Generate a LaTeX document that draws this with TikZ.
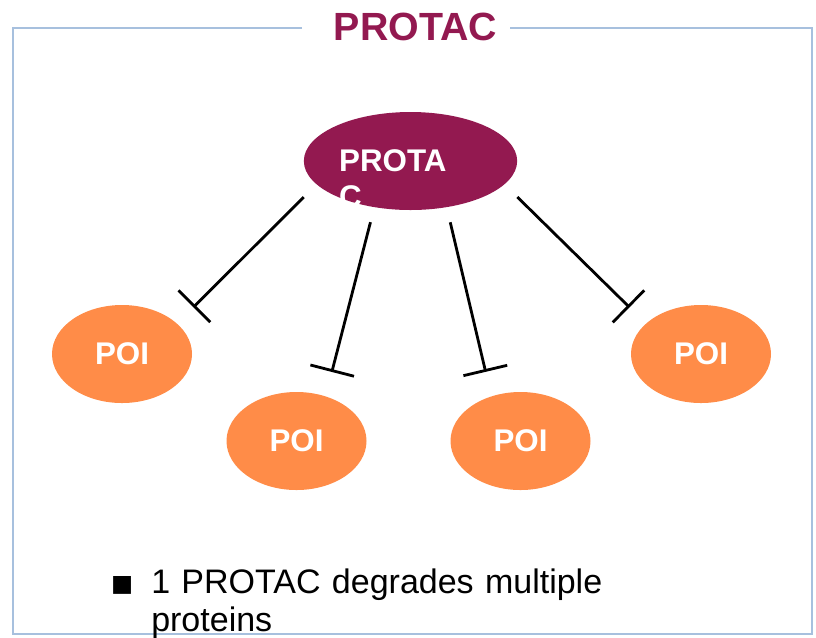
\documentclass[tikz,border=0pt]{standalone}
\usepackage{fontspec}
\setmainfont{Liberation Sans}
\newfontfamily\symfont{DejaVu Sans}
\usetikzlibrary{shapes.geometric,arrows.meta}
\definecolor{protacred}{RGB}{147,25,80}
\definecolor{poiorange}{RGB}{255,140,72}
\definecolor{frameblue}{RGB}{167,192,222}
\begin{document}
\begin{tikzpicture}[x=0.75pt,y=-0.75pt]
\tikzstyle{frame}=[draw=frameblue,line width=2.1pt]
\tikzstyle{blob}=[ellipse,inner sep=0pt,minimum height=73.5pt,text=white,font=\bfseries\fontsize{23.5}{28}\selectfont]
\tikzstyle{poi}=[blob,fill=poiorange,minimum width=105pt]
\tikzstyle{degrade}=[-{Bar[width=33.75pt]},line width=2.1pt]
\useasboundingbox (0,0) rectangle (816,637);
% title sits in a gap of the frame
\node[text=protacred,font=\bfseries\fontsize{29.5}{34}\selectfont,inner sep=0pt] (title) at (415.5,27) {PROTAC};
\draw[frame] (302,28) -- (13,28) -- (13,634) -- (812,634) -- (812,28) -- (510,28);
\node[blob,fill=protacred,minimum width=160pt,text width=107pt,align=left] (protac) at (410.5,161)
  {\leavevmode\smash{\rlap{\raisebox{-27pt}{C}}}PROTA};
\foreach \i/\x/\y in {1/122/354,2/296.5/441,3/520.5/441,4/701/354}
  \node[poi] (poi\i) at (\x,\y) {POI};
\draw[degrade,shorten <=13.5pt,shorten >=17.25pt] (protac.194) -- (poi1.29);
\draw[degrade,shorten <=11.5pt,shorten >=18.75pt] (protac.232) -- (poi2.57);
\draw[degrade,shorten <=11.5pt,shorten >=18.75pt] (protac.308) -- (poi3.123);
\draw[degrade,shorten <=13.5pt,shorten >=17.25pt] (protac.346) -- (poi4.151);
\node[anchor=base west,text width=360pt,align=left,inner sep=0pt,font=\fontsize{25.5}{29}\selectfont] (note) at (151,593)
  {\llap{\raisebox{1.5pt}{\symfont\fontsize{17.5}{18}\selectfont ■}\hspace{13.5pt}}1 PROTAC degrades multiple\\proteins};
\end{tikzpicture}
\end{document}
